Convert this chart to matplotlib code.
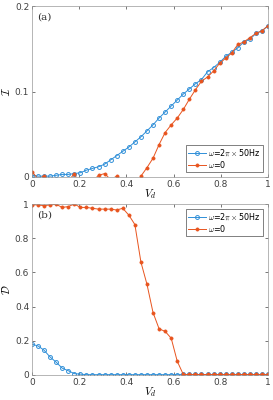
import matplotlib
matplotlib.use("Agg")
import matplotlib.pyplot as plt
import numpy as np

# V_d grid: 40 points from 0 to 1
vd = np.linspace(0, 1, 40)

# panel (a): I vs V_d
i_omega50 = [0.002, 0.001, 0.001, 0.001, 0.002, 0.003, 0.003, 0.004, 0.005, 0.008,
             0.010, 0.012, 0.015, 0.020, 0.025, 0.030, 0.035, 0.041, 0.047, 0.054,
             0.061, 0.069, 0.076, 0.083, 0.090, 0.097, 0.103, 0.109, 0.114, 0.123,
             0.128, 0.134, 0.141, 0.146, 0.151, 0.158, 0.161, 0.168, 0.171, 0.177]
i_omega0 = [0.006, -0.002, 0.001, -0.005, -0.010, -0.010, -0.005, 0.004, -0.010, -0.010,
            -0.005, 0.002, 0.004, -0.003, 0.001, -0.010, -0.020, -0.010, 0.001, 0.011,
            0.022, 0.038, 0.052, 0.061, 0.069, 0.079, 0.091, 0.102, 0.112, 0.117,
            0.124, 0.133, 0.139, 0.145, 0.155, 0.158, 0.163, 0.168, 0.171, 0.177]

# panel (b): D vs V_d
d_omega50 = [0.180, 0.170, 0.145, 0.105, 0.075, 0.040, 0.025, 0.008, 0.005, 0.002,
             0.002, 0.002, 0.002, 0.002, 0.002, 0.002, 0.002, 0.002, 0.002, 0.002,
             0.002, 0.002, 0.002, 0.002, 0.002, 0.003, 0.003, 0.003, 0.003, 0.003,
             0.003, 0.003, 0.003, 0.003, 0.003, 0.003, 0.003, 0.003, 0.003, 0.003]
d_omega0 = [0.995, 0.995, 0.990, 0.995, 0.998, 0.980, 0.985, 1.000, 0.980, 0.980,
            0.975, 0.970, 0.970, 0.970, 0.965, 0.975, 0.935, 0.880, 0.660, 0.530,
            0.365, 0.270, 0.255, 0.215, 0.080, 0.003, 0.003, 0.003, 0.003, 0.003,
            0.003, 0.003, 0.003, 0.003, 0.003, 0.003, 0.003, 0.003, 0.003, 0.003]

xticks = [0, 0.2, 0.4, 0.6, 0.8, 1]
xticklabels = ["0", "0.2", "0.4", "0.6", "0.8", "1"]

BLUE = "#2f8fd8"
ORANGE = "#e8541e"
AXC = "0.25"

plt.rcParams["mathtext.fontset"] = "cm"

fig = plt.figure(figsize=(2.73, 4.0), dpi=100)
ax_a = fig.add_axes([0.117, 0.5575, 0.865, 0.4275])
ax_b = fig.add_axes([0.117, 0.0625, 0.865, 0.4275])


def style(ax):
    ax.set_xlim(0, 1)
    ax.set_xticks(xticks)
    ax.set_xticklabels(xticklabels)
    ax.tick_params(direction="in", length=2.5, width=0.5, labelsize=6.5,
                   colors=AXC, top=True, right=True, pad=2)
    for s in ax.spines.values():
        s.set_linewidth(0.5)
        s.set_color("0.6")
    ax.set_xlabel("$V_d$", fontsize=8, labelpad=-1)


def draw(ax, y50, y0, loc):
    ax.plot(vd, y50, "-o", color=BLUE, lw=0.7, ms=2.8, mfc="none", mew=0.7,
            label=r"$\omega$=2$\pi\times$50Hz")
    ax.plot(vd, y0, "-o", color=ORANGE, lw=0.7, ms=2.3, mfc=ORANGE, mew=0.5,
            label=r"$\omega$=0")
    leg = ax.legend(fontsize=5.8, loc=loc, frameon=True, fancybox=False,
                    edgecolor="0.3", framealpha=1, handlelength=2.2,
                    handletextpad=0.3, borderpad=0.3, labelspacing=0.1,
                    borderaxespad=0.6)
    leg.get_frame().set_linewidth(0.5)


style(ax_a)
draw(ax_a, i_omega50, i_omega0, "lower right")
ax_a.set_ylim(0, 0.2)
ax_a.set_yticks([0, 0.1, 0.2])
ax_a.set_yticklabels(["0", "0.1", "0.2"])
ax_a.set_ylabel(r"$\mathcal{I}$", fontsize=8, labelpad=2)
ax_a.text(0.02, 0.96, "(a)", transform=ax_a.transAxes, fontsize=7.5,
          family="DejaVu Serif", va="top", color="0.2")

style(ax_b)
draw(ax_b, d_omega50, d_omega0, "upper right")
ax_b.set_ylim(0, 1)
ax_b.set_yticks([0, 0.2, 0.4, 0.6, 0.8, 1])
ax_b.set_yticklabels(["0", "0.2", "0.4", "0.6", "0.8", "1"])
ax_b.set_ylabel(r"$\mathcal{D}$", fontsize=8, labelpad=2)
ax_b.text(0.02, 0.96, "(b)", transform=ax_b.transAxes, fontsize=7.5,
          family="DejaVu Serif", va="top", color="0.2")

fig.savefig("out.png", dpi=100, facecolor="white")
